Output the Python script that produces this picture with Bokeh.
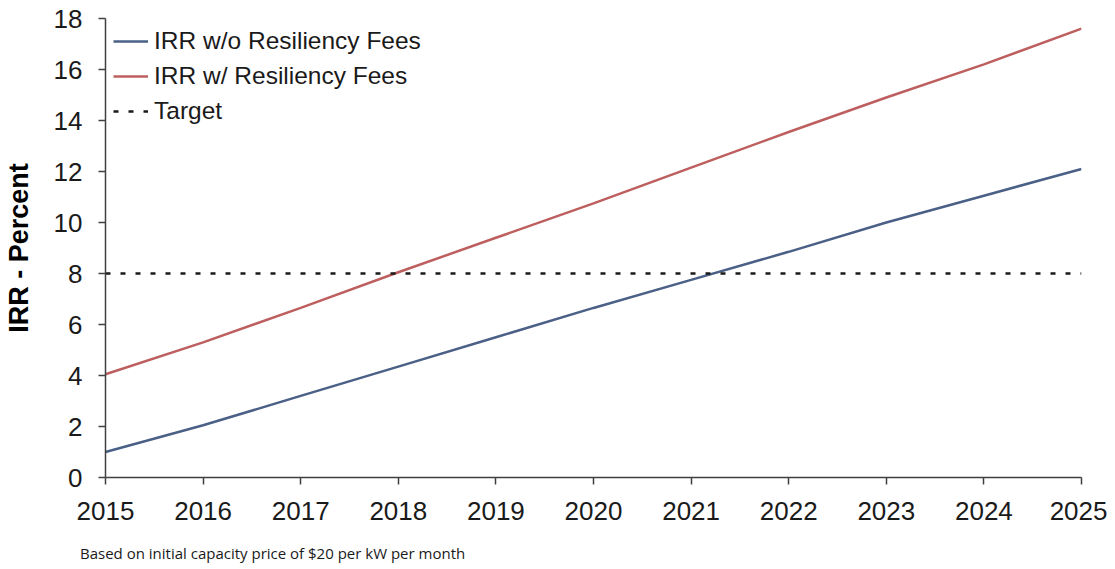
from bokeh.plotting import figure
from bokeh.models import Legend, LegendItem, FixedTicker, Range1d, Div
from bokeh.layouts import column
from bokeh.embed import file_html
from bokeh.resources import INLINE

years = [2015, 2016, 2017, 2018, 2019, 2020, 2021, 2022, 2023, 2024, 2025]
irr_without = [1.0, 2.05, 3.2, 4.35, 5.5, 6.65, 7.75, 8.85, 10.0, 11.05, 12.1]
irr_with = [4.05, 5.3, 6.65, 8.05, 9.4, 10.75, 12.15, 13.55, 14.9, 16.2, 17.6]
target = [8] * len(years)
y_ticks = [0, 2, 4, 6, 8, 10, 12, 14, 16, 18]
footnote = "Based on initial capacity price of $20 per kW per month"

FONT = "Liberation Sans"

p = figure(width=1107, height=538, output_backend="svg", toolbar_location=None,
           x_range=Range1d(2015, 2025), y_range=Range1d(0, 18),
           min_border_left=104, min_border_right=26, min_border_top=18, min_border_bottom=61)
p.outline_line_color = None
p.xgrid.grid_line_color = None
p.ygrid.grid_line_color = None

l1 = p.line(years, irr_without, line_color="#4a6086", line_width=2.5)
l2 = p.line(years, irr_with, line_color="#be5f5f", line_width=2.5)
l3 = p.line(years, target, line_color="#1a1a1a", line_width=2.5, line_dash="5 10")

for ax in (p.xaxis[0], p.yaxis[0]):
    ax.axis_line_color = "#404040"
    ax.axis_line_width = 1.5
    ax.major_tick_line_color = "#404040"
    ax.major_tick_line_width = 1.5
    ax.major_tick_in = 0
    ax.major_tick_out = 7
    ax.minor_tick_line_color = None
    ax.major_label_text_font = FONT
    ax.major_label_text_font_size = "26px"
    ax.major_label_text_color = "#1a1a1a"

p.xaxis[0].major_label_standoff = 17
p.yaxis[0].major_label_standoff = 16
p.xaxis[0].ticker = FixedTicker(ticks=years)
p.yaxis[0].ticker = FixedTicker(ticks=y_ticks)
p.yaxis[0].axis_label = "IRR - Percent"
p.yaxis[0].axis_label_text_font = FONT
p.yaxis[0].axis_label_text_font_style = "bold"
p.yaxis[0].axis_label_text_font_size = "27px"
p.yaxis[0].axis_label_text_color = "#000000"
p.yaxis[0].axis_label_standoff = 17

legend = Legend(items=[
    LegendItem(label="IRR w/o Resiliency Fees", renderers=[l1]),
    LegendItem(label="IRR w/ Resiliency Fees", renderers=[l2]),
    LegendItem(label="Target", renderers=[l3]),
], location="top_left")
legend.border_line_color = None
legend.background_fill_alpha = 0
legend.label_text_font = FONT
legend.label_text_font_size = "24.5px"
legend.label_text_color = "#1a1a1a"
legend.glyph_width = 35
legend.glyph_height = 30
legend.label_height = 30
legend.spacing = 5
legend.margin = 8
legend.padding = 6
legend.label_standoff = 6
p.add_layout(legend)

note = Div(text=footnote, width=1107, height=23,
           styles={"font-family": "Open Sans", "font-size": "15px", "color": "#1a1a1a",
                   "padding-left": "75px", "padding-top": "1px", "line-height": "18px"})

layout = column(p, note, spacing=0)
open("out.html", "w").write(file_html(layout, INLINE))
